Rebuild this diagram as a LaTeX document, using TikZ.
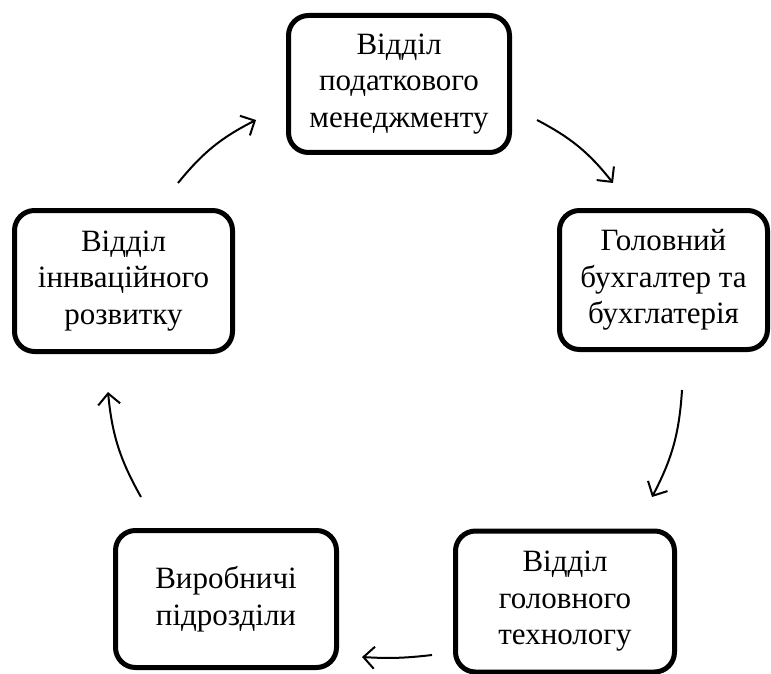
\documentclass[tikz,border=0pt]{standalone}
\usepackage{fontspec}
\setmainfont{Liberation Serif}
\usepackage{tikz}
\usetikzlibrary{arrows.meta}
\tikzset {
  % rounded department box
  dept/.style = {draw, line width=5pt, rounded corners=20pt, align=center,
    font=\fontsize{31}{36.5}\selectfont, inner sep=0pt},
  % curved flow arrow
  flow/.style = {line width=2pt, -{Straight Barb[length=11pt, width=22pt, line width=2pt]}},
}

\begin{document}
\begin{tikzpicture}[x=1pt, y=-1pt]
      \useasboundingbox (0, 0) rectangle (771, 674);

      \node[dept, minimum width=221, minimum height=137] (podatk) at (399, 84) {Відділ\\податкового\\менеджменту};
      \node[dept, minimum width=208, minimum height=139] (buh) at (663.5, 280) {Головний\\бухгалтер та\\бухглатерія};
      \node[dept, minimum width=219, minimum height=141] (tehn) at (565, 601.5) {Відділ\\головного\\технологу};
      \node[dept, minimum width=221, minimum height=137] (vyrob) at (226, 599) {Виробничі\\підрозділи};
      \node[dept, minimum width=218, minimum height=141] (innov) at (123.5, 281) {Відділ\\іннваційного\\розвитку};

      \coordinate (a1) at (178, 183);
      \coordinate (b1) at (256, 120);
      \coordinate (a2) at (537, 120);
      \coordinate (b2) at (613, 183);
      \coordinate (a3) at (682, 390);
      \coordinate (b3) at (652, 497);
      \coordinate (a4) at (432, 655);
      \coordinate (b4) at (362, 657);
      \coordinate (a5) at (141, 497);
      \coordinate (b5) at (108, 392);

      \draw [flow] (a1) to[bend left=12] (b1);
      \draw [flow] (a2) to[bend left=12] (b2);
      \draw [flow] (a3) to[bend left=12] (b3);
      \draw [flow] (a4) to[bend left=5] (b4);
      \draw [flow] (a5) to[bend left=12] (b5);
    \end{tikzpicture}
\end{document}
